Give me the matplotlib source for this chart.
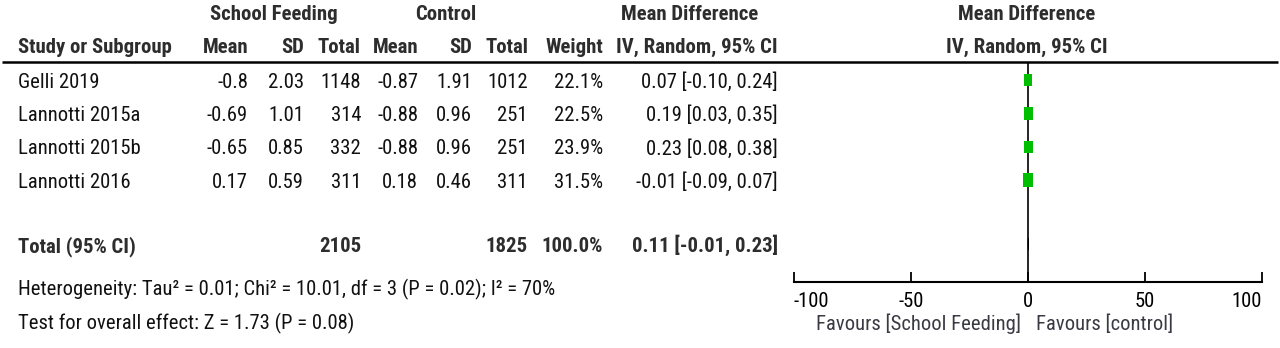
import matplotlib
matplotlib.use('Agg')
import matplotlib.pyplot as plt
from matplotlib import font_manager
from matplotlib.patches import Rectangle, Polygon
import numpy as np

# study data
studies = ['Gelli 2019', 'Lannotti 2015a', 'Lannotti 2015b', 'Lannotti 2016']
sf_mean = [-0.8, -0.69, -0.65, 0.17]
sf_sd = [2.03, 1.01, 0.85, 0.59]
sf_n = [1148, 314, 332, 311]
ct_mean = [-0.87, -0.88, -0.88, 0.18]
ct_sd = [1.91, 0.96, 0.96, 0.46]
ct_n = [1012, 251, 251, 311]
weight = [22.1, 22.5, 23.9, 31.5]
md = [0.07, 0.19, 0.23, -0.01]
md_lo = [-0.10, 0.03, 0.08, -0.09]
md_hi = [0.24, 0.35, 0.38, 0.07]

# pooled result
total_sf_n = 2105
total_ct_n = 1825
total_weight = 100.0
total_md, total_lo, total_hi = 0.11, -0.01, 0.23

heterogeneity = 'Heterogeneity: Tau² = 0.01; Chi² = 10.01, df = 3 (P = 0.02); I² = 70%'
overall = 'Test for overall effect: Z = 1.73 (P = 0.08)'
axis_ticks = [-100, -50, 0, 50, 100]
favours_left = 'Favours [School Feeding]'
favours_right = 'Favours [control]'

# pick the narrowest sans available
names = {f.name for f in font_manager.fontManager.ttflist}
stretch = 'normal'
family = 'Liberation Sans'
for cand in ['Liberation Sans Narrow', 'Arial Narrow', 'Roboto Condensed', 'DejaVu Sans Condensed']:
    if cand in names:
        family = cand
        break
else:
    fp = font_manager.FontProperties(family='DejaVu Sans', stretch='condensed')
    if 'Condensed' in font_manager.findfont(fp, fallback_to_default=False):
        family, stretch = 'DejaVu Sans', 'condensed'
plt.rcParams['font.family'] = [family, 'DejaVu Sans']
plt.rcParams['font.stretch'] = stretch

# layout (pixel units of the 1280x348 canvas)
W, H = 1280, 348
row_y = [80, 113.5, 147, 180]
total_y = 244
line_y = 62
axis_y = 282
x0_px, x1_px = 794, 1262

body = '#111111'
head = '#2d2d2d'
green = '#00bf00'

fig = plt.figure(figsize=(W / 100, H / 100), dpi=100)
renderer = fig.canvas.get_renderer()


def fit_size(s, target_px, **kw):
    t = fig.text(0, 0, s, fontsize=10, **kw)
    w = t.get_window_extent(renderer).width
    t.remove()
    return 10 * target_px / w


fs = fit_size(heterogeneity, 532)
hfs = fit_size('IV, Random, 95% CI', 161, fontweight='bold')

tab = fig.add_axes([0, 0, 1, 1])
tab.set_xlim(0, W)
tab.set_ylim(H, 0)
tab.axis('off')

# headers
hkw = dict(fontsize=hfs, fontweight='bold', color=head, va='baseline')
tab.text(274, 20, 'School Feeding', ha='center', **hkw)
tab.text(446, 20, 'Control', ha='center', **hkw)
tab.text(690, 20, 'Mean Difference', ha='center', **hkw)
tab.text(1027, 20, 'Mean Difference', ha='center', **hkw)
tab.text(1027, 53, 'IV, Random, 95% CI', ha='center', **hkw)
tab.text(18, 53, 'Study or Subgroup', ha='left', **hkw)
col_x = [248, 304, 361, 418, 472, 528, 603, 778]
col_names = ['Mean', 'SD', 'Total', 'Mean', 'SD', 'Total', 'Weight', 'IV, Random, 95% CI']
for x, name in zip(col_x, col_names):
    tab.text(x, 53, name, ha='right', **hkw)

tab.plot([2, W - 2], [line_y, line_y], color='black', lw=1.8, solid_capstyle='butt')

# study rows
for i, name in enumerate(studies):
    yb = row_y[i] + 7.5
    cells = [f'{sf_mean[i]:g}', f'{sf_sd[i]:.2f}', f'{sf_n[i]}',
             f'{ct_mean[i]:.2f}', f'{ct_sd[i]:.2f}', f'{ct_n[i]}',
             f'{weight[i]:.1f}%',
             f'{md[i]:.2f} [{md_lo[i]:.2f}, {md_hi[i]:.2f}]']
    tab.text(18, yb, name, ha='left', va='baseline', fontsize=fs, color=body)
    for x, s in zip(col_x, cells):
        tab.text(x, yb, s, ha='right', va='baseline', fontsize=fs, color=body)

# total row
tb = total_y + 8
tab.text(18, tb, 'Total (95% CI)', ha='left', **hkw)
tab.text(col_x[2], tb, f'{total_sf_n}', ha='right', **hkw)
tab.text(col_x[5], tb, f'{total_ct_n}', ha='right', **hkw)
tab.text(col_x[6], tb, f'{total_weight:.1f}%', ha='right', **hkw)
tab.text(col_x[7], tb, f'{total_md:.2f} [{total_lo:.2f}, {total_hi:.2f}]', ha='right', **hkw)

tab.text(18, 295, heterogeneity, ha='left', va='baseline', fontsize=fs, color=body)
tab.text(18, 329, overall, ha='left', va='baseline', fontsize=fs, color=body)

# forest plot
ax = fig.add_axes([x0_px / W, (H - axis_y) / H, (x1_px - x0_px) / W, (axis_y - line_y) / H])
ax.set_xlim(axis_ticks[0], axis_ticks[-1])
ax.set_ylim(axis_y, line_y)
ax.patch.set_alpha(0)
for s in ['top', 'left', 'right']:
    ax.spines[s].set_visible(False)
ax.spines['bottom'].set_linewidth(1.5)
ax.set_yticks([])
ax.set_xticks(axis_ticks)
ax.tick_params(axis='x', direction='in', length=7, width=1.3, pad=7,
               labelsize=fs, colors='black')
labels = ax.set_xticklabels([str(t) for t in axis_ticks])
labels[0].set_ha('left')
labels[-1].set_ha('right')

ax.axvline(0, color='black', lw=1.2, zorder=1)

px_per_unit = (x1_px - x0_px) / (axis_ticks[-1] - axis_ticks[0])
for i in range(len(studies)):
    h = 2.6 * np.sqrt(weight[i])
    w = 0.68 * h / px_per_unit
    ax.hlines(row_y[i], md_lo[i], md_hi[i], color='black', lw=1)
    ax.add_patch(Rectangle((md[i] - w / 2, row_y[i] - h / 2), w, h,
                           facecolor=green, edgecolor='none', zorder=3))

ax.add_patch(Polygon([(total_lo, total_y), (total_md, total_y - 6),
                      (total_hi, total_y), (total_md, total_y + 6)],
                     closed=True, facecolor='black', edgecolor='black', lw=0.5, zorder=3))

fkw = dict(fontsize=fs, color='#3a3a44', va='baseline', transform=ax.get_xaxis_transform())
ax.text(-3, -0.22, favours_left, ha='right', **fkw)
ax.text(3.5, -0.22, favours_right, ha='left', **fkw)

fig.savefig('out.png', dpi=100)
